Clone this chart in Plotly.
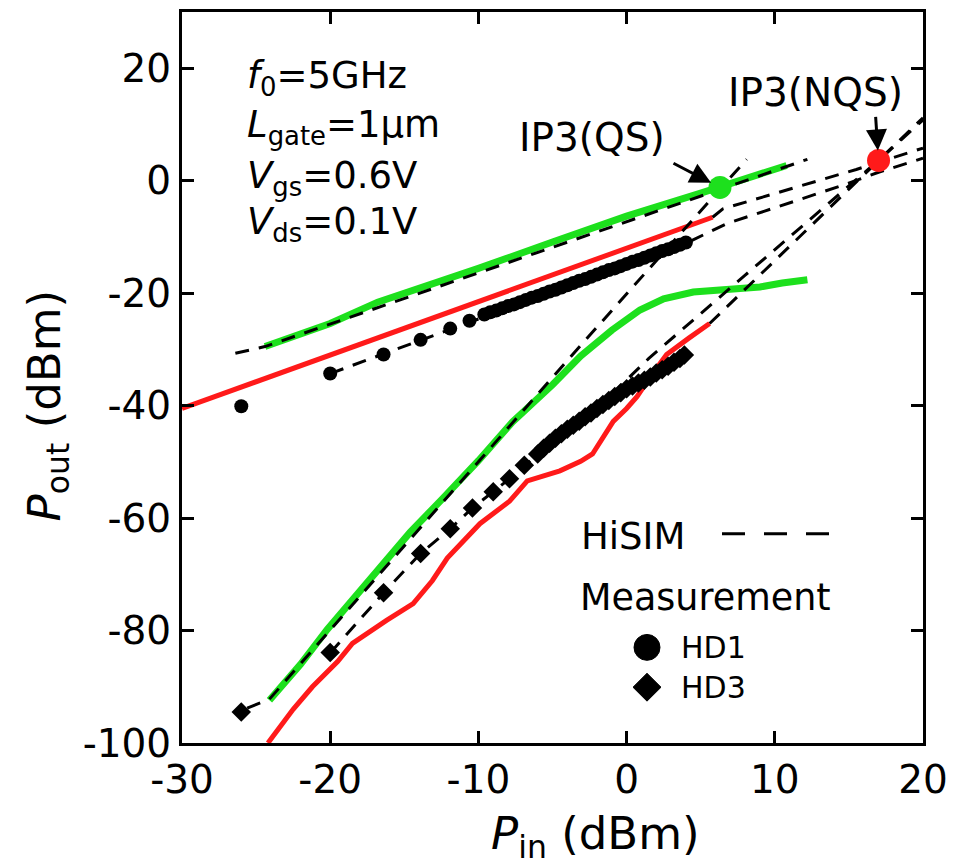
import plotly.graph_objects as go

# ---------------- data ----------------
x_ticks = [-30, -20, -10, 0, 10, 20]
x_tick_labels = ["-30", "-20", "-10", "0", "10", "20"]
y_ticks = [-100, -80, -60, -40, -20, 0, 20]
y_tick_labels = ["-100", "-80", "-60", "-40", "-20", "0", "20"]

# green (QS) HD1 and HD3 curves
green_hd1_x = [-24.4, -20, -16.8, -12.4, -10, -5, -3.1, 0, 5, 5.8, 8, 10.8]
green_hd1_y = [-29.5, -25.4, -21.6, -17.8, -15.6, -10.9, -9.2, -6.3, -2.2, -1.5, 0.3, 2.7]
green_hd3_x = [-24.1, -22, -20.2, -18.5, -16.6, -14.6, -12.4, -10, -7.7, -5, -3.1, -1,
               0.9, 2.5, 4.5, 6, 7.7, 9, 10.5, 11.5, 12.2]
green_hd3_y = [-92.4, -86.0, -79.8, -74.5, -68.4, -62.5, -56.5, -49.8, -42.9, -36.3, -31.2, -26.6,
               -23.0, -21.0, -19.8, -19.5, -19.2, -18.9, -18.2, -17.8, -17.6]

# red (NQS) HD1 and HD3 curves
red_hd1_x = [-30, -20, -10, 0, 5.8]
red_hd1_y = [-40.5, -31.0, -21.5, -12.0, -6.5]
red_hd3_x = [-24.2, -22.5, -21.2, -19.5, -18.5, -17.5, -16.2, -14.4, -13.1, -12.1, -11, -9.9,
             -7.9, -6.7, -4.5, -3.1, -2.3, -1.6, -0.9, 0, 0.7, 1.7, 2.7, 4.2, 5.6]
red_hd3_y = [-100, -94.0, -90.0, -85.5, -82.3, -80.5, -78.2, -75.2, -71.1, -67.1, -64.0, -61.0,
             -57.0, -53.4, -51.6, -49.9, -48.6, -45.8, -42.8, -40.5, -38.4, -34.5, -30.9, -28.0, -25.4]

# measurement points (HD1 circles, HD3 diamonds)
meas_hd1_x = [-26, -20, -16.4, -13.9, -11.9, -10.6,
              -9.6, -9.2, -8.8, -8.4, -8.0, -7.6, -7.2, -6.8, -6.4, -6.0, -5.6, -5.2, -4.8, -4.4,
              -4.0, -3.6, -3.2, -2.8, -2.4, -2.0, -1.6, -1.2, -0.8, -0.4, 0.0, 0.4, 0.8, 1.2,
              1.6, 2.0, 2.4, 2.8, 3.2, 3.6, 4.0]
meas_hd1_y = [-40.1, -34.3, -30.9, -28.3, -26.3, -24.9,
              -23.8, -23.4, -23.1, -22.7, -22.3, -22.0, -21.6, -21.2, -20.8, -20.5, -20.1, -19.7, -19.4, -19.0,
              -18.6, -18.2, -17.8, -17.5, -17.1, -16.7, -16.3, -15.9, -15.6, -15.2, -14.8, -14.4, -14.1, -13.7,
              -13.3, -12.9, -12.5, -12.2, -11.8, -11.4, -11.0]
meas_hd3_x = [-26, -20, -16.4, -13.9, -11.9, -10.4, -9.0, -7.9, -6.9,
              -6.0, -5.6, -5.2, -4.8, -4.4, -4.0, -3.6, -3.2, -2.8, -2.4, -2.0, -1.6, -1.2,
              -0.8, -0.4, 0.0, 0.4, 0.8, 1.2, 1.6, 2.0, 2.4, 2.8, 3.2, 3.6, 3.9]
meas_hd3_y = [-94.5, -83.9, -73.3, -66.3, -61.9, -58.2, -55.3, -53.0, -50.6,
              -48.6, -47.6, -46.7, -45.8, -45.0, -44.2, -43.5, -42.8, -42.0, -41.3, -40.5, -39.8, -39.1,
              -38.4, -37.7, -37.0, -36.5, -36.0, -35.5, -34.9, -34.2, -33.6, -33.0, -32.3, -31.6, -31.0]

# HiSIM dashed lines (incl. extrapolations)
hisim_qs_hd1_x = [-26.4, -24.4, 12.2]
hisim_qs_hd1_y = [-30.7, -29.5, 3.8]
hisim_qs_hd3_x = [-25.6, -24.1, -3.1, 8.1]
hisim_qs_hd3_y = [-93.8, -92.2, -29.3, 3.8]
hisim_nqs_hd1_x = [-20, -10, 0, 4.1, 6.8, 14.6, 17, 20]
hisim_nqs_hd1_y = [-34.3, -24.6, -15.5, -11.0, -7.6, -0.8, 1.5, 4.0]
hisim_nqs_hd3_x = [-20, -16.4, -13.9, -11.9, -10.4, -7.7, -5.4, -3.6, -1.2, 1.5, 8, 17, 20]
hisim_nqs_hd3_y = [-84, -73.3, -66.3, -61.9, -58.2, -52.6, -47.3, -43.3, -38.5, -31.6, -16.8, 3.6, 10.8]
red_hd1_ext_x = [5.8, 6.5, 15.5, 17, 20]
red_hd1_ext_y = [-6.5, -5.0, 2.0, 3.3, 5.8]
red_hd3_ext_x = [5.6, 17, 20]
red_hd3_ext_y = [-25.4, 3.6, 11.2]

# IP3 points
ip3_qs_x, ip3_qs_y = [6.3], [-1.2]
ip3_nqs_x, ip3_nqs_y = [17.0], [3.6]

# ---------------- styling ----------------
FONT = "DejaVu Sans, Verdana, sans-serif"
GREEN = "#1de01d"
RED = "#ff1a1a"
DASH = "14px,10px"

fig = go.Figure()

def line(x, y, color, width, dash=None):
    fig.add_trace(go.Scatter(x=x, y=y, mode="lines", showlegend=False, hoverinfo="skip",
                             line=dict(color=color, width=width, dash=dash)))

line(red_hd1_x, red_hd1_y, RED, 5)
line(red_hd3_x, red_hd3_y, RED, 5)
line(green_hd1_x, green_hd1_y, GREEN, 7)
line(green_hd3_x, green_hd3_y, GREEN, 7)
for xs, ys in [(hisim_qs_hd1_x, hisim_qs_hd1_y), (hisim_qs_hd3_x, hisim_qs_hd3_y),
               (hisim_nqs_hd1_x, hisim_nqs_hd1_y), (hisim_nqs_hd3_x, hisim_nqs_hd3_y),
               (red_hd1_ext_x, red_hd1_ext_y), (red_hd3_ext_x, red_hd3_ext_y)]:
    line(xs, ys, "black", 3, DASH)

fig.add_trace(go.Scatter(x=meas_hd1_x, y=meas_hd1_y, mode="markers", showlegend=False,
                         marker=dict(symbol="circle", size=14, color="black")))
fig.add_trace(go.Scatter(x=meas_hd3_x, y=meas_hd3_y, mode="markers", showlegend=False,
                         marker=dict(symbol="diamond", size=15, color="black")))
fig.add_trace(go.Scatter(x=ip3_qs_x, y=ip3_qs_y, mode="markers", showlegend=False,
                         marker=dict(symbol="circle", size=23, color=GREEN)))
fig.add_trace(go.Scatter(x=ip3_nqs_x, y=ip3_nqs_y, mode="markers", showlegend=False,
                         marker=dict(symbol="circle", size=23, color=RED)))

# ---------------- layout ----------------
# the page body has an 8px margin, so the figure is 8px smaller than the window
W, H = 960, 859
SCR_L, SCR_R, SCR_T, SCR_B = 182, 923, 9, 743   # plot-area edges on screen
L, T = SCR_L - 8, SCR_T - 8
R = W - (SCR_R - 8)
B = H - (SCR_B - 8)

def px(xs):
    return (xs - SCR_L) / (SCR_R - SCR_L)

def py(ys):
    return (SCR_B - ys) / (SCR_B - SCR_T)

axis_common = dict(showline=True, linewidth=3, linecolor="black", mirror="ticks",
                   ticks="inside", ticklen=12, tickwidth=3, tickcolor="black",
                   showgrid=False, zeroline=False,
                   tickfont=dict(family=FONT, size=39, color="black"))

fig.update_layout(
    width=W, height=H,
    margin=dict(l=L, r=R, t=T, b=B),
    paper_bgcolor="white", plot_bgcolor="white",
    font=dict(family=FONT, color="black"),
    xaxis=dict(range=[-30, 20], tickvals=x_ticks, ticktext=x_tick_labels, **axis_common),
    yaxis=dict(range=[-100, 30], tickvals=y_ticks, ticktext=y_tick_labels, **axis_common),
)

ann = []
# axis titles
ann.append(dict(text="<i>P</i><sub>in</sub> (dBm)", xref="paper", yref="paper", x=px(595), y=py(836),
                xanchor="center", yanchor="middle", showarrow=False, font=dict(family=FONT, size=45)))
ann.append(dict(text="<i>P</i><sub>out</sub> (dBm)", xref="paper", yref="paper", x=px(47), y=py(405),
                xanchor="center", yanchor="middle", showarrow=False, textangle=-90,
                font=dict(family=FONT, size=45)))
# condition text block
cond_lines = ["<i>f</i><sub>0</sub>=5GHz", "<i>L</i><sub>gate</sub>=1μm",
              "<i>V</i><sub>gs</sub>=0.6V", "<i>V</i><sub>ds</sub>=0.1V"]
cond_y = [75, 124, 176, 222]
for t, ys in zip(cond_lines, cond_y):
    ann.append(dict(text=t, xref="paper", yref="paper", x=px(245), y=py(ys),
                    xanchor="left", yanchor="middle", showarrow=False,
                    font=dict(family=FONT, size=37)))
# IP3 labels
ann.append(dict(text="IP3(QS)", xref="paper", yref="paper", x=px(592), y=py(135),
                xanchor="center", yanchor="middle", showarrow=False, font=dict(family=FONT, size=39)))
ann.append(dict(text="IP3(NQS)", xref="paper", yref="paper", x=px(815), y=py(90),
                xanchor="center", yanchor="middle", showarrow=False, font=dict(family=FONT, size=39)))
# arrows
ann.append(dict(text="", x=ip3_qs_x[0], y=ip3_qs_y[0], xref="x", yref="y", ax=-48, ay=-25,
                showarrow=True, arrowhead=2, arrowsize=1.4, arrowwidth=3, arrowcolor="black", standoff=10))
ann.append(dict(text="", x=ip3_nqs_x[0], y=ip3_nqs_y[0], xref="x", yref="y", ax=-3, ay=-45,
                showarrow=True, arrowhead=2, arrowsize=1.4, arrowwidth=3, arrowcolor="black", standoff=10))
# legend texts
for t, xs, ys, fs in [("HiSIM", 579, 536, 37), ("Measurement", 578, 597, 36.5),
                      ("HD1", 679, 647, 30), ("HD3", 679, 687, 30)]:
    ann.append(dict(text=t, xref="paper", yref="paper", x=px(xs), y=py(ys),
                    xanchor="left", yanchor="middle", showarrow=False, font=dict(family=FONT, size=fs)))
fig.update_layout(annotations=ann)

# legend glyphs
shapes = [
    dict(type="line", xref="paper", yref="paper", x0=px(722), x1=px(830), y0=py(533), y1=py(533),
         line=dict(color="black", width=3, dash="23px,19px")),
    dict(type="circle", xref="paper", yref="paper", x0=px(634), x1=px(660), y0=py(634), y1=py(660),
         fillcolor="black", line=dict(color="black", width=1)),
    dict(type="path", xref="paper", yref="paper",
         path=f"M {px(633)} {py(687)} L {px(647)} {py(673)} L {px(661)} {py(687)} L {px(647)} {py(701)} Z",
         fillcolor="black", line=dict(color="black", width=1)),
]
fig.update_layout(shapes=shapes)

fig.write_html("out.html")
